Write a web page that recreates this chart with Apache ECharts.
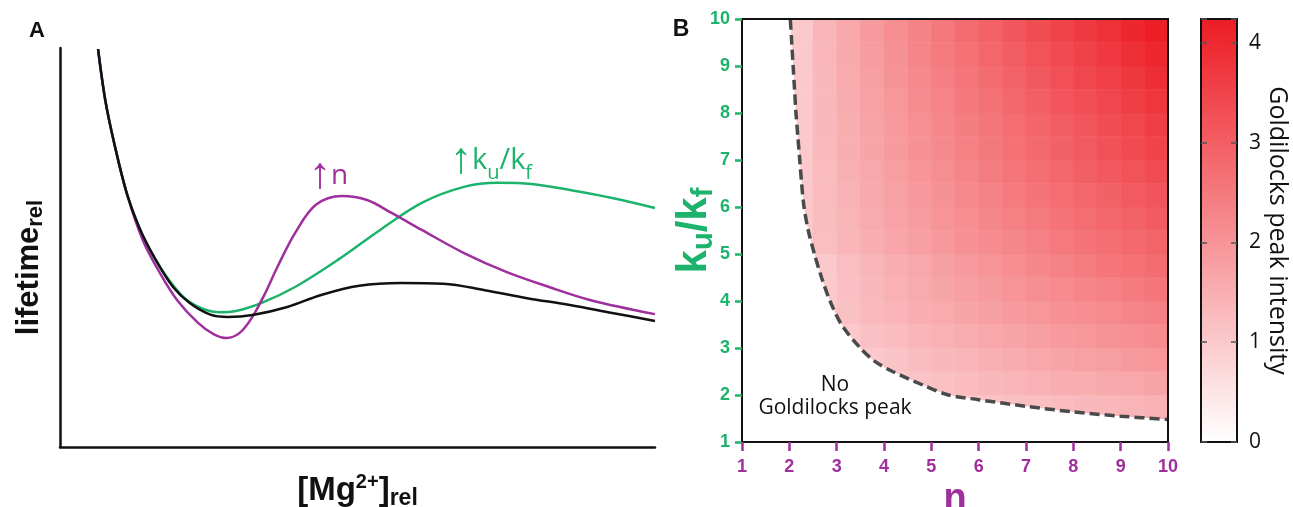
<!DOCTYPE html>
<html><head><meta charset="utf-8">
<script src="https://cdn.jsdelivr.net/npm/echarts@6/dist/echarts.min.js"></script>
<style>html,body{margin:0;padding:0;background:#fff}#c{width:1293px;height:507px}</style>
</head><body><div id="c"></div>
<script>
// ---------- Panel A: lifetime vs [Mg2+] (relative units) ----------
const blackX = [6.4,7.6,9.1,11.2,13.3,16.1,19.0,21.8,25.4,28.2,32.4,38.2,43.9,50.3,57.3,64.4,71.4,78.5,85.7,92.8,100];
const blackY = [99.7,87.0,76.2,63.7,55.1,46.9,40.1,36.1,33.1,32.6,33.1,35.1,38.1,40.4,41.1,40.9,39.3,37.3,35.6,33.6,31.6];
const greenX = [6.4,7.6,9.1,11.2,13.3,14.8,18.3,21.8,26.7,29.6,33.9,39.5,46.7,53.8,60.8,67.9,73.6,79.3,85.7,92.8,100];
const greenY = [99.7,87.0,76.2,63.7,55.1,50.1,41.9,36.3,33.8,34.1,36.1,40.1,46.9,54.4,61.2,65.2,66.2,65.9,64.4,62.4,59.9];
const purpleX = [6.4,7.6,9.1,11.2,13.9,16.8,19.7,23.2,25.8,28.0,30.2,32.2,34.3,36.5,39.5,43.0,47.4,51.6,55.8,60.8,67.9,75.0,82.2,89.2,100];
const purpleY = [99.7,87.0,76.2,63.7,51.9,43.6,36.8,31.1,28.3,27.3,28.6,32.3,38.0,45.0,53.6,60.7,62.9,61.9,58.6,54.4,48.6,43.9,40.1,36.8,33.3];

// ---------- Panel B: Goldilocks peak intensity over (n, ku/kf) ----------
const nCenters = ['1.25','1.75','2.25','2.75','3.25','3.75','4.25','4.75','5.25','5.75','6.25','6.75','7.25','7.75','8.25','8.75','9.25','9.75'];
const kCenters = ['1.25','1.75','2.25','2.75','3.25','3.75','4.25','4.75','5.25','5.75','6.25','6.75','7.25','7.75','8.25','8.75','9.25','9.75'];
const _ = null;
const peakK125 = [_,_,_,_,_,_,_,_,_,_,_,_,_,_,_,_,_,1.40];
const peakK175 = [_,_,_,_,_,_,_,_,1.0,1.05,1.1,1.15,1.2,1.25,1.3,1.35,1.4,1.45];
const peakK225 = [_,_,_,_,_,_,1.0,1.10,1.18,1.25,1.31,1.37,1.43,1.49,1.54,1.60,1.65,1.70];
const peakK275 = [_,_,_,_,_,1.0,1.13,1.23,1.31,1.39,1.47,1.55,1.62,1.69,1.75,1.82,1.89,1.95];
const peakK325 = [_,_,_,_,1.0,1.15,1.26,1.36,1.45,1.54,1.62,1.70,1.78,1.86,1.93,2.01,2.08,2.15];
const peakK375 = [_,_,_,1.0,1.16,1.28,1.39,1.50,1.59,1.69,1.77,1.86,1.95,2.03,2.11,2.19,2.27,2.35];
const peakK425 = [_,_,_,1.0,1.19,1.33,1.45,1.57,1.68,1.79,1.89,1.99,2.09,2.18,2.28,2.37,2.46,2.55];
const peakK475 = [_,_,_,1.0,1.21,1.37,1.51,1.64,1.77,1.89,2.00,2.12,2.23,2.34,2.44,2.55,2.65,2.75];
const peakK525 = [_,_,1.0,1.22,1.38,1.52,1.66,1.79,1.91,2.03,2.15,2.26,2.37,2.48,2.59,2.69,2.80,2.90];
const peakK575 = [_,_,1.0,1.24,1.41,1.57,1.71,1.85,1.99,2.12,2.24,2.36,2.48,2.60,2.72,2.83,2.94,3.05];
const peakK625 = [_,_,1.0,1.25,1.44,1.61,1.76,1.91,2.06,2.20,2.33,2.46,2.59,2.72,2.84,2.96,3.08,3.20];
const peakK675 = [_,_,1.0,1.27,1.47,1.65,1.82,1.98,2.13,2.28,2.42,2.56,2.70,2.83,2.97,3.10,3.22,3.35];
const peakK725 = [_,_,1.0,1.29,1.50,1.69,1.87,2.04,2.20,2.36,2.51,2.66,2.81,2.95,3.09,3.23,3.37,3.50];
const peakK775 = [_,_,1.0,1.30,1.52,1.72,1.90,2.08,2.25,2.41,2.57,2.73,2.88,3.03,3.18,3.32,3.46,3.60];
const peakK825 = [_,_,1.0,1.32,1.55,1.76,1.95,2.14,2.32,2.50,2.66,2.83,2.99,3.15,3.30,3.45,3.60,3.75];
const peakK875 = [_,_,1.0,1.33,1.58,1.80,2.01,2.20,2.39,2.58,2.75,2.93,3.10,3.26,3.43,3.59,3.74,3.90];
const peakK925 = [_,_,1.0,1.35,1.61,1.84,2.06,2.27,2.47,2.66,2.85,3.03,3.21,3.38,3.55,3.72,3.89,4.05];
const peakK975 = [_,_,1.0,1.37,1.64,1.88,2.11,2.33,2.54,2.74,2.94,3.13,3.31,3.50,3.68,3.85,4.03,4.20];
const peakRows = [peakK125,peakK175,peakK225,peakK275,peakK325,peakK375,peakK425,peakK475,peakK525,
                  peakK575,peakK625,peakK675,peakK725,peakK775,peakK825,peakK875,peakK925,peakK975];

// boundary of the Goldilocks region (dashed curve)
const boundN = [1.99,2.02,2.05,2.08,2.11,2.14,2.18,2.22,2.26,2.31,2.40,2.53,2.68,2.86,3.10,3.50,3.80,4.18,4.85,5.36,6.0,7.0,8.0,9.0,10.0];
const boundK = [10.3,10,9.5,9,8.5,8,7.5,7,6.5,6,5.5,5,4.5,4,3.5,3,2.72,2.5,2.2,2.0,1.9,1.76,1.64,1.55,1.48];

const axisTicks = [1,2,3,4,5,6,7,8,9,10];
const colorTicks = [0,1,2,3,4];
const peakMax = 4.24;

// ---------- styling ----------
const GREEN = '#1EB36C', PURPLE = '#9E2F9C', RED = '#ED1C24';
const heatData = [];
peakRows.forEach((row, yi) => row.forEach((v, xi) => { if (v !== null) heatData.push([xi, yi, v]); }));

const chart = echarts.init(document.getElementById('c'), null, {renderer: 'canvas'});
const boldSans = 'Liberation Sans, Arial, sans-serif';
const humanist = 'Open Sans, Noto Sans, sans-serif';

const option = {
  animation: false,
  backgroundColor: '#fff',
  grid: [
    {left: 60, top: 48, width: 595, height: 399, outerBoundsMode: 'none', containLabel: false},
    {left: 742, top: 19, width: 426, height: 423, show: true, borderColor: '#111', borderWidth: 2, backgroundColor: 'transparent', z: 10, outerBoundsMode: 'none', containLabel: false},
    {left: 1201, top: 19, width: 36, height: 423, show: true, borderColor: '#111', borderWidth: 2, backgroundColor: 'transparent', z: 10, outerBoundsMode: 'none', containLabel: false}
  ],
  visualMap: [{type: 'continuous', show: false, min: 0, max: peakMax, seriesIndex: 3, inRange: {color: ['#ffffff', RED]}}],
  xAxis: [
    {gridIndex: 0, type: 'value', min: 0, max: 100, axisLine: {show: true, onZero: false, lineStyle: {color: '#111', width: 2.5}},
     axisTick: {show: false}, axisLabel: {show: false}, splitLine: {show: false},
     name: '{m|[Mg}{p|2+}{m|]}{s|rel}', nameLocation: 'middle', nameGap: 25,
     nameTextStyle: {rich: {
       m: {fontSize: 33, fontWeight: 'bold', fontFamily: boldSans, color: '#111', lineHeight: 38},
       p: {fontSize: 20, fontWeight: 'bold', fontFamily: boldSans, color: '#111', lineHeight: 20, verticalAlign: 'top'},
       s: {fontSize: 23, fontWeight: 'bold', fontFamily: boldSans, color: '#111', lineHeight: 16, verticalAlign: 'bottom'}}}},
    {gridIndex: 1, type: 'category', data: nCenters, show: false},
    {gridIndex: 1, type: 'value', min: 1, max: 10, interval: 1, position: 'bottom', z: 12,
     axisLine: {show: false}, splitLine: {show: false},
     axisTick: {show: true, length: 9, lineStyle: {color: PURPLE, width: 2.5}},
     axisLabel: {color: PURPLE, fontWeight: 'bold', fontSize: 18, fontFamily: boldSans, margin: 16,
                 formatter: v => axisTicks.includes(v) ? String(v) : ''},
     name: 'n', nameLocation: 'middle', nameGap: 35,
     nameTextStyle: {color: PURPLE, fontWeight: 'bold', fontSize: 38, fontFamily: boldSans}},
    {gridIndex: 2, type: 'category', data: ['bar'], show: false}
  ],
  yAxis: [
    {gridIndex: 0, type: 'value', min: 0, max: 100, axisLine: {show: true, onZero: false, lineStyle: {color: '#111', width: 2.5}},
     axisTick: {show: false}, axisLabel: {show: false}, splitLine: {show: false},
     name: '{m|lifetime}{s|rel}', nameLocation: 'middle', nameRotate: 90, nameGap: 13,
     nameTextStyle: {padding: [0, 40, 0, 0], rich: {
       m: {fontSize: 31, fontWeight: 'bold', fontFamily: boldSans, color: '#111', lineHeight: 36},
       s: {fontSize: 22, fontWeight: 'bold', fontFamily: boldSans, color: '#111', lineHeight: 16, verticalAlign: 'bottom'}}}},
    {gridIndex: 1, type: 'category', data: kCenters, show: false},
    {gridIndex: 1, type: 'value', min: 1, max: 10, interval: 1, position: 'left', z: 12,
     axisLine: {show: false}, splitLine: {show: false},
     axisTick: {show: true, length: 7, lineStyle: {color: GREEN, width: 2.5}},
     axisLabel: {color: GREEN, fontWeight: 'bold', fontSize: 18, fontFamily: boldSans, margin: 12,
                 formatter: v => axisTicks.includes(v) ? String(v) : ''},
     name: '{k|k}{s|u}{k|/k}{s|f}', nameLocation: 'middle', nameRotate: 90, nameGap: 24, nameMoveOverlap: false,
     nameTextStyle: {rich: {
       k: {fontSize: 42, fontWeight: 'bold', fontFamily: boldSans, color: GREEN, lineHeight: 48},
       s: {fontSize: 29, fontWeight: 'bold', fontFamily: boldSans, color: GREEN, lineHeight: 22, verticalAlign: 'bottom'}}}},
    {gridIndex: 2, type: 'value', min: 0, max: peakMax, interval: 1, position: 'right', z: 12,
     axisLine: {show: false}, splitLine: {show: false},
     axisTick: {show: true, inside: true, length: 6, lineStyle: {color: '#555', width: 1.5}},
     axisLabel: {color: '#111', fontSize: 21, fontFamily: humanist, margin: 12,
                 formatter: v => colorTicks.includes(v) ? String(v) : ''},
     name: 'Goldilocks peak intensity', nameLocation: 'middle', nameRotate: -90, nameGap: 25,
     nameTextStyle: {color: '#111', fontSize: 25, fontFamily: humanist}},
    {gridIndex: 2, type: 'value', min: 0, max: peakMax, interval: 1, position: 'left', z: 12,
     axisLine: {show: false}, splitLine: {show: false}, axisLabel: {show: false},
     axisTick: {show: true, inside: true, length: 6, lineStyle: {color: '#555', width: 1.5}}}
  ],
  series: [
    {type: 'line', xAxisIndex: 0, yAxisIndex: 0, data: greenX.map((x, i) => [x, greenY[i]]), smooth: 0.35,
     symbol: 'none', lineStyle: {color: GREEN, width: 2.5}, z: 2},
    {type: 'line', xAxisIndex: 0, yAxisIndex: 0, data: purpleX.map((x, i) => [x, purpleY[i]]), smooth: 0.35,
     symbol: 'none', lineStyle: {color: PURPLE, width: 2.5}, z: 3},
    {type: 'line', xAxisIndex: 0, yAxisIndex: 0, data: blackX.map((x, i) => [x, blackY[i]]), smooth: 0.35,
     symbol: 'none', lineStyle: {color: '#111', width: 2.5}, z: 4},
    {type: 'heatmap', xAxisIndex: 1, yAxisIndex: 1, data: heatData, z: 2, emphasis: {disabled: true}},
    {type: 'line', xAxisIndex: 2, yAxisIndex: 2, data: boundN.map((n, i) => [n, boundK[i]]), smooth: 0.3,
     symbol: 'none', z: 5, areaStyle: {color: '#ffffff', opacity: 1, origin: 'start'},
     lineStyle: {color: '#4a4a4a', width: 3.5, type: [10, 5]}},
    {type: 'bar', xAxisIndex: 3, yAxisIndex: 3, data: [peakMax], barWidth: '100%', z: 2,
     itemStyle: {color: new echarts.graphic.LinearGradient(0, 1, 0, 0, [{offset: 0, color: '#ffffff'}, {offset: 1, color: RED}])}}
  ],
  graphic: [
    {type: 'text', z: 100, style: {text: 'A', x: 37, y: 31, align: 'center', verticalAlign: 'middle',
      font: 'bold 22px ' + boldSans, fill: '#111'}},
    {type: 'text', z: 100, style: {text: 'B', x: 681, y: 30, align: 'center', verticalAlign: 'middle',
      font: 'bold 23px ' + boldSans, fill: '#111'}},
    {type: 'text', z: 100, style: {text: '{a|↑}{t|n}', x: 309, y: 176, align: 'left', verticalAlign: 'middle',
      rich: {a: {fontSize: 44, fontFamily: 'Liberation Sans', fill: PURPLE, lineHeight: 44},
             t: {fontSize: 28, fontFamily: humanist, fill: PURPLE, lineHeight: 38}}}},
    {type: 'text', z: 100, style: {text: '{a|↑}{t|k}{s|u}{t|/k}{s|f}', x: 450, y: 161, align: 'left', verticalAlign: 'middle',
      rich: {a: {fontSize: 44, fontFamily: 'Liberation Sans', fill: GREEN, lineHeight: 44},
             t: {fontSize: 29, fontFamily: humanist, fill: GREEN, lineHeight: 38},
             s: {fontSize: 20, fontFamily: humanist, fill: GREEN, lineHeight: 26, verticalAlign: 'bottom'}}}},
    {type: 'text', z: 100, style: {text: 'No\nGoldilocks peak', x: 835, y: 397, align: 'center', verticalAlign: 'middle',
      font: '21px ' + humanist, lineHeight: 23, fill: '#111'}}
  ]
};
chart.setOption(option);
</script></body></html>
